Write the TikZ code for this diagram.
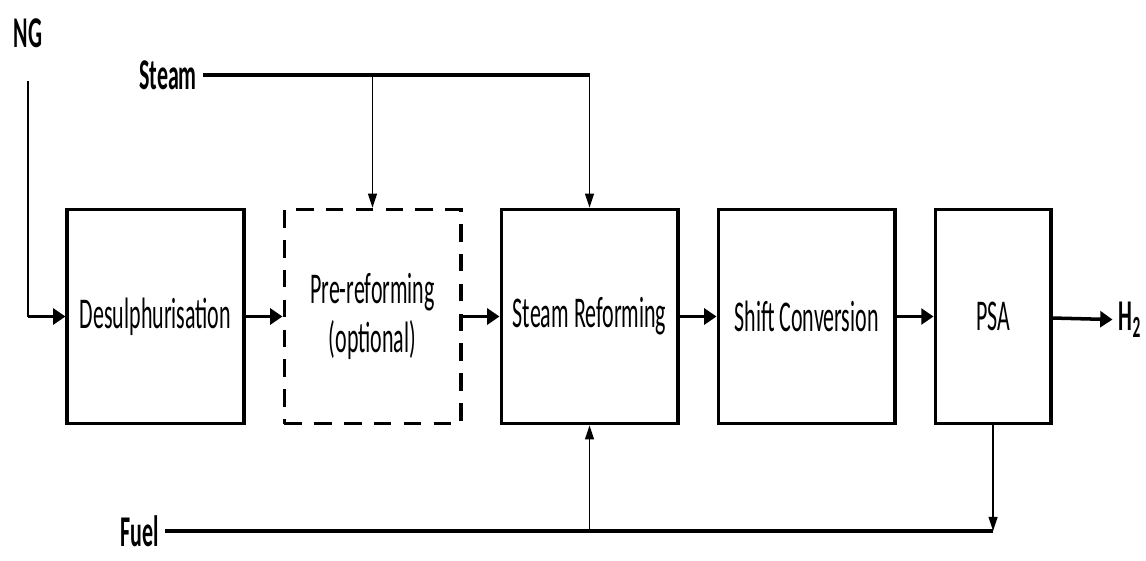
\documentclass[tikz,border=0pt]{standalone}
\usepackage{fontspec}
\setmainfont{Carlito}[FakeStretch=0.5]
\usetikzlibrary{positioning,arrows.meta}

\begin{document}
\begin{tikzpicture}[
  unit/.style = {
    draw,
    rectangle,
    line width = 2pt,
    minimum width = 3.53cm,
    minimum height = 4.28cm,
    align = center,
    font = \fontsize{25}{28}\selectfont,
  },
  optunit/.style = {
    unit,
    dash pattern = on 10pt off 7pt,
  },
  stream/.style = {
    font = \bfseries\fontsize{25}{28}\selectfont,
  },
  hline/.style = {
    line width = 2pt,
  },
  vline/.style = {
    line width = 1pt,
  },
  main/.style = {
    hline,
    -{Triangle[length=7pt,width=9pt]},
  },
  feed/.style = {
    vline,
    -{Triangle[length=8pt,width=5pt]},
  },
]

  \useasboundingbox (0,0) rectangle (22.92,-11.2);

  % process units
  \node[unit] (desulph) at (3.11,-6.33) {Desulphurisation};
  \node[optunit] (prereform) [right=0.74cm of desulph] {Pre-reforming\\(optional)};
  \node[unit] (reform) [right=0.74cm of prereform] {Steam Reforming};
  \node[unit] (shift) [right=0.74cm of reform] {Shift Conversion};
  \node[unit,minimum width=2.31cm] (psa) [right=0.74cm of shift] {PSA};

  % streams
  \node[stream] (ng) at (0.56,-0.66) {NG};
  \node[stream] (steam) at (3.36,-1.5) {Steam};
  \node[stream,inner ysep=1pt] (fuel) at (2.8,-10.62) {Fuel};
  \node[stream] (h2) at (22.6,-6.4) {H\textsubscript{2}};

  \coordinate (ngtop) at ([yshift=-0.55cm]ng.south);
  \coordinate (ngturn) at (ngtop |- desulph.west);
  \coordinate (steamend) at (steam.east -| reform.north);
  \coordinate (steampre) at (steam.east -| prereform.north);
  \coordinate (fuelend) at (fuel.east -| psa.south);
  \coordinate (fuelsr) at (fuel.east -| reform.south);

  % main line
  \draw[vline] (ngtop) -- (ngturn);
  \draw[main] (ngturn) -- (desulph.west);
  \draw[main] (desulph) -- (prereform);
  \draw[main] (prereform) -- (reform);
  \draw[main] (reform) -- (shift);
  \draw[main] (shift) -- (psa);
  \draw[main] (psa) -- (h2);

  % steam
  \draw[hline] (steam.east) -- (steamend);
  \draw[feed] (steamend) -- (reform.north);
  \draw[feed] (steampre) -- (prereform.north);

  % fuel
  \draw[hline] (fuel.east) -- (fuelend);
  \draw[feed] (fuelsr) -- (reform.south);
  \draw[feed] (psa.south) -- (fuelend);

\end{tikzpicture}
\end{document}
